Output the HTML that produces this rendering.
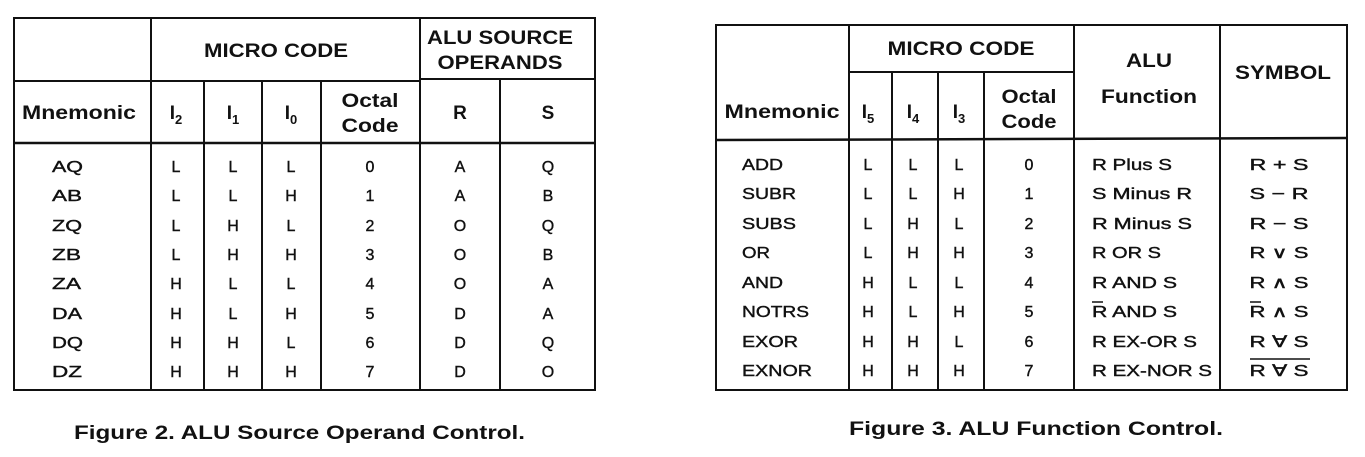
<!DOCTYPE html>
<html><head><meta charset="utf-8"><style>
html,body{margin:0;padding:0;background:#fff;}
svg{display:block;}
text{font-family:"Liberation Sans",sans-serif;fill:#111;}
.h{font-weight:bold;font-size:19px;}
.d{font-size:16px;stroke:#111;stroke-width:0.4;}
.c{font-weight:bold;font-size:19px;}
</style></head><body>
<svg width="1365" height="457" viewBox="0 0 1365 457" xmlns="http://www.w3.org/2000/svg">
<g stroke="#111" stroke-width="2" fill="none">
<rect x="14" y="18" width="581" height="372"/>
<line x1="14" y1="81" x2="420" y2="81"/>
<line x1="420" y1="79" x2="595" y2="79"/>
<line x1="14" y1="143" x2="595" y2="143" stroke-width="2.5"/>
<line x1="151" y1="18" x2="151" y2="390"/>
<line x1="420" y1="18" x2="420" y2="390"/>
<line x1="204" y1="81" x2="204" y2="390"/>
<line x1="262" y1="81" x2="262" y2="390"/>
<line x1="321" y1="81" x2="321" y2="390"/>
<line x1="500" y1="79" x2="500" y2="390"/>
<rect x="716" y="25" width="631" height="365"/>
<line x1="849" y1="72" x2="1074" y2="72"/>
<line x1="716" y1="140" x2="1347" y2="138" stroke-width="2.5"/>
<line x1="849" y1="25" x2="849" y2="390"/>
<line x1="1074" y1="25" x2="1074" y2="390"/>
<line x1="1220" y1="25" x2="1220" y2="390"/>
<line x1="892" y1="72" x2="892" y2="390"/>
<line x1="938" y1="72" x2="938" y2="390"/>
<line x1="984" y1="72" x2="984" y2="390"/>
</g>
<g class="h" text-anchor="middle">
<text x="276" y="57" textLength="144" lengthAdjust="spacingAndGlyphs">MICRO CODE</text>
<text x="500" y="44" textLength="146" lengthAdjust="spacingAndGlyphs">ALU SOURCE</text>
<text x="500" y="69" textLength="125" lengthAdjust="spacingAndGlyphs">OPERANDS</text>
<text x="79" y="119" textLength="114" lengthAdjust="spacingAndGlyphs">Mnemonic</text>
<text x="176" y="119">I<tspan font-size="13" dy="5">2</tspan></text>
<text x="233" y="119">I<tspan font-size="13" dy="5">1</tspan></text>
<text x="291" y="119">I<tspan font-size="13" dy="5">0</tspan></text>
<text x="370" y="107" textLength="57" lengthAdjust="spacingAndGlyphs">Octal</text>
<text x="370" y="132" textLength="57" lengthAdjust="spacingAndGlyphs">Code</text>
<text x="460" y="119">R</text>
<text x="548" y="119">S</text>
<text x="961" y="55" textLength="147" lengthAdjust="spacingAndGlyphs">MICRO CODE</text>
<text x="1149" y="67" textLength="46" lengthAdjust="spacingAndGlyphs">ALU</text>
<text x="1149" y="103" textLength="96" lengthAdjust="spacingAndGlyphs">Function</text>
<text x="1283" y="79" textLength="96" lengthAdjust="spacingAndGlyphs">SYMBOL</text>
<text x="782" y="118" textLength="115" lengthAdjust="spacingAndGlyphs">Mnemonic</text>
<text x="868" y="118">I<tspan font-size="13" dy="5">5</tspan></text>
<text x="913" y="118">I<tspan font-size="13" dy="5">4</tspan></text>
<text x="959" y="118">I<tspan font-size="13" dy="5">3</tspan></text>
<text x="1029" y="103" textLength="55" lengthAdjust="spacingAndGlyphs">Octal</text>
<text x="1029" y="128" textLength="55" lengthAdjust="spacingAndGlyphs">Code</text>
</g>
<g class="d">
<text x="52" y="172" textLength="31" lengthAdjust="spacingAndGlyphs">AQ</text><text x="52" y="201" textLength="30" lengthAdjust="spacingAndGlyphs">AB</text><text x="52" y="231" textLength="30" lengthAdjust="spacingAndGlyphs">ZQ</text><text x="52" y="260" textLength="29" lengthAdjust="spacingAndGlyphs">ZB</text>
<text x="52" y="289" textLength="29" lengthAdjust="spacingAndGlyphs">ZA</text><text x="52" y="319" textLength="30" lengthAdjust="spacingAndGlyphs">DA</text><text x="52" y="348" textLength="31" lengthAdjust="spacingAndGlyphs">DQ</text><text x="52" y="377" textLength="30" lengthAdjust="spacingAndGlyphs">DZ</text>
</g>
<g class="d" text-anchor="middle">
<text x="176" y="172">L</text><text x="233" y="172">L</text><text x="291" y="172">L</text><text x="370" y="172">0</text><text x="460" y="172">A</text><text x="548" y="172">Q</text>
<text x="176" y="201">L</text><text x="233" y="201">L</text><text x="291" y="201">H</text><text x="370" y="201">1</text><text x="460" y="201">A</text><text x="548" y="201">B</text>
<text x="176" y="231">L</text><text x="233" y="231">H</text><text x="291" y="231">L</text><text x="370" y="231">2</text><text x="460" y="231">O</text><text x="548" y="231">Q</text>
<text x="176" y="260">L</text><text x="233" y="260">H</text><text x="291" y="260">H</text><text x="370" y="260">3</text><text x="460" y="260">O</text><text x="548" y="260">B</text>
<text x="176" y="289">H</text><text x="233" y="289">L</text><text x="291" y="289">L</text><text x="370" y="289">4</text><text x="460" y="289">O</text><text x="548" y="289">A</text>
<text x="176" y="319">H</text><text x="233" y="319">L</text><text x="291" y="319">H</text><text x="370" y="319">5</text><text x="460" y="319">D</text><text x="548" y="319">A</text>
<text x="176" y="348">H</text><text x="233" y="348">H</text><text x="291" y="348">L</text><text x="370" y="348">6</text><text x="460" y="348">D</text><text x="548" y="348">Q</text>
<text x="176" y="377">H</text><text x="233" y="377">H</text><text x="291" y="377">H</text><text x="370" y="377">7</text><text x="460" y="377">D</text><text x="548" y="377">O</text>
</g>
<g class="d">
<text x="742" y="170" textLength="41" lengthAdjust="spacingAndGlyphs">ADD</text><text x="742" y="199" textLength="54" lengthAdjust="spacingAndGlyphs">SUBR</text><text x="742" y="229" textLength="54" lengthAdjust="spacingAndGlyphs">SUBS</text><text x="742" y="258" textLength="28" lengthAdjust="spacingAndGlyphs">OR</text>
<text x="742" y="288" textLength="41" lengthAdjust="spacingAndGlyphs">AND</text><text x="742" y="317" textLength="67" lengthAdjust="spacingAndGlyphs">NOTRS</text><text x="742" y="347" textLength="56" lengthAdjust="spacingAndGlyphs">EXOR</text><text x="742" y="376" textLength="70" lengthAdjust="spacingAndGlyphs">EXNOR</text>
<text x="1092" y="170" textLength="80" lengthAdjust="spacingAndGlyphs">R Plus S</text><text x="1092" y="199" textLength="100" lengthAdjust="spacingAndGlyphs">S Minus R</text><text x="1092" y="229" textLength="100" lengthAdjust="spacingAndGlyphs">R Minus S</text><text x="1092" y="258" textLength="69" lengthAdjust="spacingAndGlyphs">R OR S</text>
<text x="1092" y="288" textLength="85" lengthAdjust="spacingAndGlyphs">R AND S</text><text x="1092" y="317" textLength="85" lengthAdjust="spacingAndGlyphs">R AND S</text><text x="1092" y="347" textLength="105" lengthAdjust="spacingAndGlyphs">R EX-OR S</text><text x="1092" y="376" textLength="120" lengthAdjust="spacingAndGlyphs">R EX-NOR S</text>
</g>
<line x1="1092" y1="302" x2="1103" y2="302" stroke="#111" stroke-width="1.5"/>
<g class="d" text-anchor="middle">
<text x="868" y="170">L</text><text x="913" y="170">L</text><text x="959" y="170">L</text><text x="1029" y="170">0</text>
<text x="868" y="199">L</text><text x="913" y="199">L</text><text x="959" y="199">H</text><text x="1029" y="199">1</text>
<text x="868" y="229">L</text><text x="913" y="229">H</text><text x="959" y="229">L</text><text x="1029" y="229">2</text>
<text x="868" y="258">L</text><text x="913" y="258">H</text><text x="959" y="258">H</text><text x="1029" y="258">3</text>
<text x="868" y="288">H</text><text x="913" y="288">L</text><text x="959" y="288">L</text><text x="1029" y="288">4</text>
<text x="868" y="317">H</text><text x="913" y="317">L</text><text x="959" y="317">H</text><text x="1029" y="317">5</text>
<text x="868" y="347">H</text><text x="913" y="347">H</text><text x="959" y="347">L</text><text x="1029" y="347">6</text>
<text x="868" y="376">H</text><text x="913" y="376">H</text><text x="959" y="376">H</text><text x="1029" y="376">7</text>
<text x="1279" y="170" textLength="59" lengthAdjust="spacingAndGlyphs">R + S</text><text x="1279" y="199" textLength="59" lengthAdjust="spacingAndGlyphs">S − R</text><text x="1279" y="229" textLength="59" lengthAdjust="spacingAndGlyphs">R − S</text><text x="1279" y="258" textLength="59" lengthAdjust="spacingAndGlyphs">R ∨ S</text>
<text x="1279" y="288" textLength="59" lengthAdjust="spacingAndGlyphs">R ∧ S</text><text x="1279" y="317" textLength="59" lengthAdjust="spacingAndGlyphs">R ∧ S</text><text x="1279" y="347" textLength="59" lengthAdjust="spacingAndGlyphs">R ∀ S</text><text x="1279" y="376" textLength="59" lengthAdjust="spacingAndGlyphs">R ∀ S</text>
</g>
<line x1="1250" y1="302" x2="1261" y2="302" stroke="#111" stroke-width="1.5"/>
<line x1="1250" y1="359" x2="1310" y2="359" stroke="#111" stroke-width="1.5"/>
<text class="c" x="74" y="439" textLength="451" lengthAdjust="spacingAndGlyphs">Figure 2.  ALU Source Operand Control.</text>
<text class="c" x="849" y="435" textLength="374" lengthAdjust="spacingAndGlyphs">Figure 3.  ALU Function Control.</text>
</svg>
</body></html>
